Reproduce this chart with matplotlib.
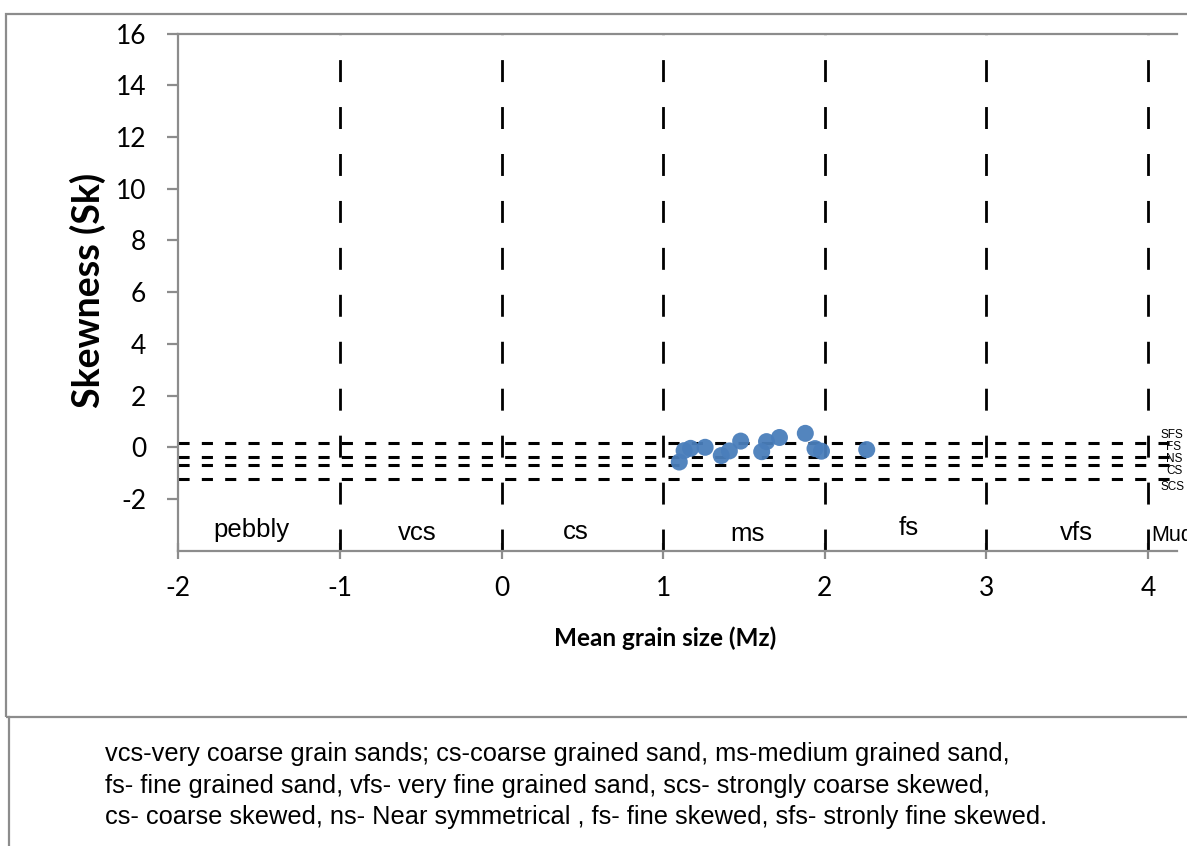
import matplotlib
matplotlib.use("Agg")
import matplotlib.pyplot as plt
from matplotlib.patches import Rectangle
from matplotlib.lines import Line2D

plt.rcParams["lines.scale_dashes"] = False

# Mean grain size (Mz, phi) and skewness (Sk) of the samples
mean_size = [1.10, 1.13, 1.17, 1.26, 1.36, 1.41, 1.48, 1.61, 1.64, 1.72, 1.88, 1.94, 1.98, 2.26]
skewness = [-0.57, -0.13, -0.04, 0.00, -0.32, -0.14, 0.24, -0.17, 0.22, 0.38, 0.54, -0.05, -0.15, -0.09]

# Grain-size class boundaries and class names
size_bounds = [-1, 0, 1, 2, 3, 4]
size_classes = ["pebbly", "vcs", "cs", "ms", "fs", "vfs", "Mud"]
size_label_x = [-1.545, -0.52, 0.46, 1.52, 2.52, 3.56, 4.02]
size_label_y = [-3.47, -3.59, -3.55, -3.62, -3.40, -3.59, -3.62]
size_label_fs = [18.5, 18.5, 18.5, 18.5, 18.5, 18.5, 15.5]

# Skewness class boundaries and class names
skew_bounds = [0.155, -0.36, -0.68, -1.24]
skew_classes = ["SFS", "FS", "NS", "CS", "SCS"]
skew_label_x = [4.08, 4.115, 4.115, 4.115, 4.08]
skew_label_y = [0.48, 0.01, -0.45, -0.91, -1.53]

y_ticks = [-2, 0, 2, 4, 6, 8, 10, 12, 14, 16]
x_ticks = [-2, -1, 0, 1, 2, 3, 4]

footnote = [
    "vcs-very coarse grain sands; cs-coarse grained sand, ms-medium grained sand,",
    "fs- fine grained sand, vfs- very fine grained sand, scs- strongly coarse skewed,",
    "cs- coarse skewed, ns- Near symmetrical , fs- fine skewed, sfs- stronly fine skewed.",
]

W, H = 1187, 846
fig = plt.figure(figsize=(W / 100, H / 100), dpi=100)

gray = "#8c8c8c"
# outer frames of the chart and the caption box
fig.patches.append(Rectangle((6 / W, 1 - 717 / H), 1.2, (717 - 14) / H,
                             transform=fig.transFigure, fill=False,
                             edgecolor=gray, lw=1.6))
fig.lines.append(Line2D([8.5 / W, 8.5 / W], [1 - 717 / H, -0.1],
                        transform=fig.transFigure, color=gray, lw=1.6))

ax = fig.add_axes([178.3 / W, 1 - 550.7 / H, (1177 - 178.3) / W, (550.7 - 33.7) / H])
ax.set_xlim(-2, 4.18)
ax.set_ylim(-4, 16)

for s in ["left", "bottom", "top"]:
    ax.spines[s].set_color(gray)
    ax.spines[s].set_linewidth(1.6)
ax.spines["right"].set_visible(False)

# vertical class boundaries, drawn upward so the dashes start at the axis
for xb in size_bounds:
    ax.plot([xb, xb], [-4, 16], color="black", lw=2.0,
            linestyle=(0, (15.8, 18.0)), zorder=2, dash_capstyle="butt")

# horizontal skewness boundaries
for yb in skew_bounds:
    ax.plot([-2, 4.18], [yb, yb], color="black", lw=2.2,
            linestyle=(0, (8.0, 8.8)), zorder=2, dash_capstyle="butt",
            clip_on=False)

ax.scatter(mean_size, skewness, s=150, color="#4a7ebb", edgecolors="none",
           zorder=3, alpha=0.95)

for name, xl, yl, fsz in zip(size_classes, size_label_x, size_label_y, size_label_fs):
    ha = "left" if name == "Mud" else "center"
    ax.text(xl, yl, name, ha=ha, va="baseline", fontsize=fsz,
            family="Liberation Sans", clip_on=False, zorder=4)

for name, xl, yl in zip(skew_classes, skew_label_x, skew_label_y):
    ax.text(xl, yl, name, ha="left", va="center", fontsize=8.5,
            family="Liberation Sans", clip_on=False)

ax.set_yticks(y_ticks)
ax.set_xticks(x_ticks)
ax.set_yticklabels([str(v) for v in y_ticks], family="Lato", fontsize=19)
ax.set_xticklabels([str(v) for v in x_ticks], family="Lato", fontsize=19)
ax.tick_params(axis="y", direction="out", length=8, width=1.6, color=gray, pad=15)
ax.tick_params(axis="x", direction="inout", length=12, width=1.6, color=gray, pad=12)

fig.text(88 / W, 1 - 290 / H, "Skewness (Sk)", rotation=90, ha="center",
         va="center", fontsize=27, fontweight="bold", family="Lato")
fig.text(665 / W, 1 - 638 / H, "Mean grain size (Mz)", ha="center",
         va="center", fontsize=17.5, fontweight="bold", family="Lato")

for i, line in enumerate(footnote):
    fig.text(105 / W, 1 - (761 + 31.5 * i) / H, line, ha="left",
             va="baseline", fontsize=18.3, family="Liberation Sans")

fig.savefig("out.png", dpi=100, facecolor="white")
